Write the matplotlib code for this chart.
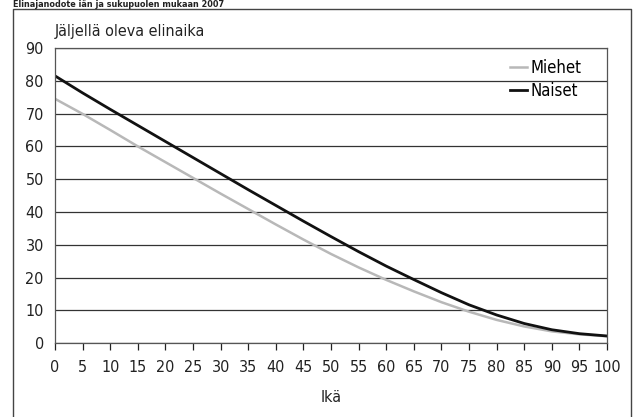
import matplotlib
matplotlib.use('Agg')
from matplotlib import pyplot as plt
from matplotlib.lines import Line2D

plt.rcParams['font.family'] = ['DejaVu Sans']
plt.rcParams['font.stretch'] = 'condensed'

# Age (years)
age = [0, 5, 10, 15, 20, 25, 30, 35, 40, 45, 50,
       55, 60, 65, 70, 75, 80, 85, 90, 95, 100]
# Remaining life expectancy, men and women
men = [74.5, 69.9, 65.0, 60.0, 55.2, 50.4, 45.6, 40.9, 36.2, 31.6, 27.2,
       23.1, 19.3, 15.8, 12.5, 9.6, 7.1, 5.1, 3.6, 2.7, 2.1]
women = [81.5, 76.3, 71.3, 66.4, 61.5, 56.6, 51.7, 46.8, 42.0, 37.2, 32.5,
         27.9, 23.5, 19.4, 15.4, 11.7, 8.6, 6.0, 4.1, 2.9, 2.2]

xticks = list(range(0, 101, 5))
yticks = list(range(0, 91, 10))

fig = plt.figure(figsize=(6.39, 4.17), dpi=100)
ax = fig.add_axes([0.086, 0.177, 0.864, 0.708])

ax.plot(age, men, color='#b8b8b8', lw=1.8, label='Miehet')
ax.plot(age, women, color='#111111', lw=2.0, label='Naiset')

ax.set_xlim(0, 100)
ax.set_ylim(0, 90)
ax.set_xticks(xticks)
ax.set_yticks(yticks)
ax.yaxis.grid(True, color='#333333', lw=0.9)
ax.set_axisbelow(True)
ax.tick_params(axis='y', length=0, labelsize=11.5, pad=8, colors='#222222')
ax.tick_params(axis='x', length=5, width=0.9, labelsize=11.5, pad=7,
               colors='#222222', direction='out')
for s in ax.spines.values():
    s.set_color('#555555')
    s.set_linewidth(0.9)

ax.set_xlabel('Ikä', fontsize=11.5, labelpad=11, color='#222222')
ax.text(0, 1.03, 'Jäljellä oleva elinaika', transform=ax.transAxes,
        fontsize=11.5, ha='left', va='bottom', color='#222222')

ax.legend(loc='upper right', bbox_to_anchor=(0.965, 0.985), frameon=False,
          handlelength=1.0, handletextpad=0.2, fontsize=12,
          labelspacing=0.3, borderaxespad=0)

# outer frame (left, top, right)
fig.add_artist(Line2D([0.021, 0.021, 0.987, 0.987], [0.0, 0.979, 0.979, 0.0],
                      transform=fig.transFigure, color='#444444', lw=1.0))

# title above the frame
fig.text(0.021, 0.999, 'Elinajanodote iän ja sukupuolen mukaan 2007',
         fontsize=6.5, fontweight='bold', ha='left', va='top',
         color='#222222')

fig.savefig('out.png', dpi=100)
